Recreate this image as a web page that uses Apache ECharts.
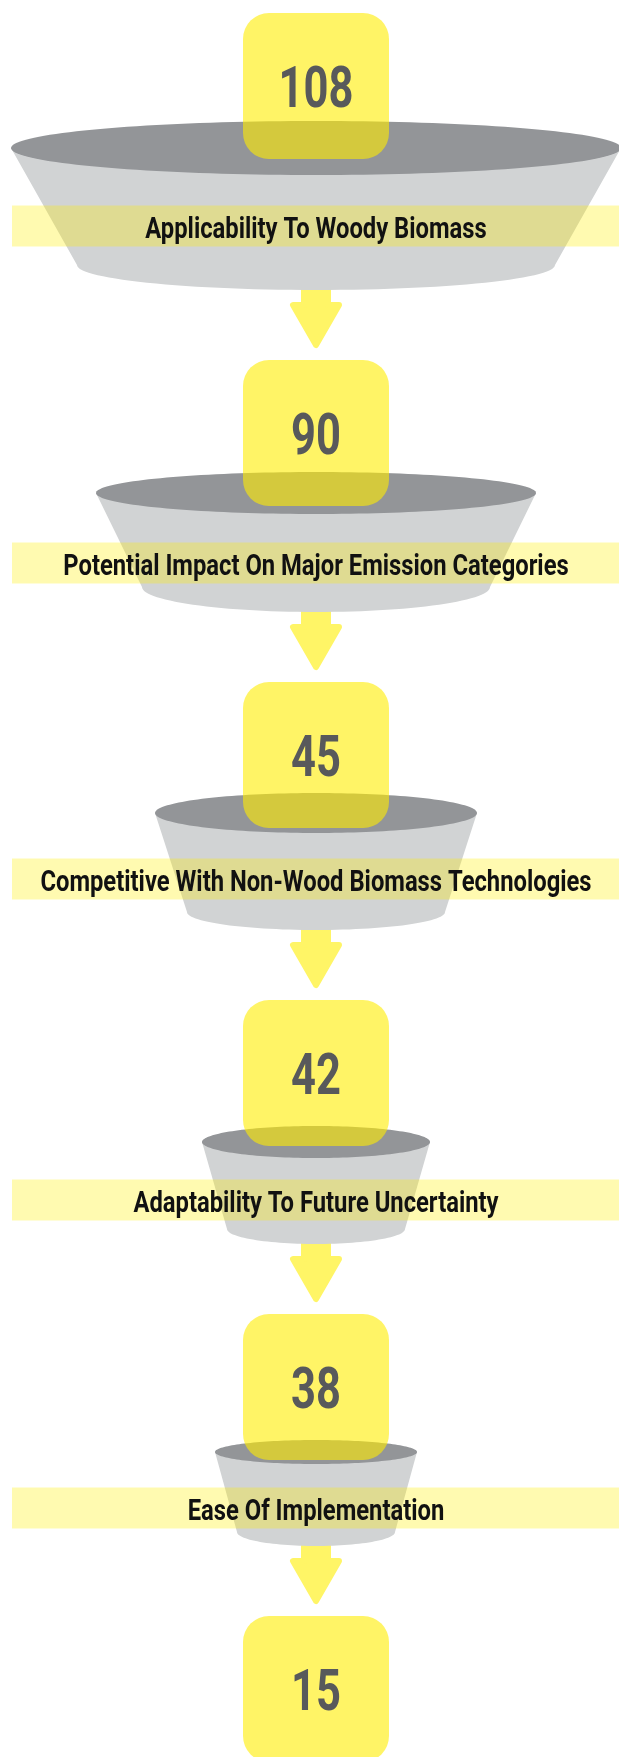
<!DOCTYPE html>
<html>
<head>
<meta charset="utf-8">
<script src="https://cdn.jsdelivr.net/npm/echarts@6/dist/echarts.min.js"></script>
<style>
  html, body { margin: 0; padding: 0; background: #ffffff; }
  #chart { width: 619px; height: 1757px; }
</style>
</head>
<body>
<div id="chart"></div>
<script>
// Stage values, top to bottom
const stageValues = [108, 90, 45, 42, 38, 15];

// Criteria names shown on each funnel band (the final stage has no funnel)
const stageLabels = [
  'Applicability To Woody Biomass',
  'Potential Impact On Major Emission Categories',
  'Competitive With Non-Wood Biomass Technologies',
  'Adaptability To Future Uncertainty',
  'Ease Of Implementation',
  ''
];

// Decorative bowl geometry for each funnel stage (pixels)
const bowlShapes = [
  { lip: 135, rx: 305, ry: 27, depth: 117, baseRx: 239, baseRy: 25, band: 78 },
  { lip: 133, rx: 220, ry: 21, depth: 94,  baseRx: 174, baseRy: 25, band: 70 },
  { lip: 131, rx: 161, ry: 20, depth: 99,  baseRx: 129, baseRy: 18, band: 66 },
  { lip: 142, rx: 114, ry: 16, depth: 87,  baseRx: 89,  baseRy: 15, band: 58 },
  { lip: 138, rx: 101, ry: 12, depth: 80,  baseRx: 79,  baseRy: 14, band: 56 }
];

const CX = 316, FIRST_TOP = 13, BOX = 146, BOX_R = 26, GAP = 70;
const BAND_H = 41, BAND_L = 12, BAND_R = 622;
const COLORS = {
  lip: '#939598', body: '#d1d3d4', box: 'rgba(255,237,0,0.6)',
  band: 'rgba(255,238,0,0.31)', arrow: '#fff566', number: '#58595b', label: '#111111'
};

// Stack stages vertically: each one follows the previous bowl plus the arrow gap
const stageTops = [FIRST_TOP];
for (let i = 0; i < stageValues.length - 1; i++) {
  const b = bowlShapes[i];
  stageTops.push(stageTops[i] + b.lip + b.depth + b.baseRy + GAP);
}

function ellipsePoints(cx, cy, rx, ry, t0, t1, n) {
  const pts = [];
  for (let k = 0; k <= n; k++) {
    const t = t0 + (t1 - t0) * k / n;
    pts.push([cx + rx * Math.cos(t), cy + ry * Math.sin(t)]);
  }
  return pts;
}

function renderStage(params, api) {
  const i = params.dataIndex;
  const top = stageTops[i];
  const value = api.value(0);
  const children = [];
  const b = bowlShapes[i];

  if (b) {
    const cy = top + b.lip;
    const baseY = cy + b.depth;
    const bottom = baseY + b.baseRy;
    const headTop = bottom + 12;
    const tip = bottom + 58;

    // arrow towards the next stage (drawn first so the bowl hides its stem)
    children.push({
      type: 'polygon',
      shape: { points: [
        [CX - 12, baseY], [CX + 12, baseY], [CX + 12, headTop + 3], [CX + 23, headTop + 3],
        [CX, tip - 3], [CX - 23, headTop + 3], [CX - 12, headTop + 3]
      ] },
      style: { fill: COLORS.arrow, stroke: COLORS.arrow, lineWidth: 6, lineJoin: 'round' }
    });

    // bowl body: straight sides with a curved base
    const body = [[CX - b.rx, cy], [CX + b.rx, cy], [CX + b.baseRx, baseY]]
      .concat(ellipsePoints(CX, baseY, b.baseRx, b.baseRy, 0, Math.PI, 60))
      .concat([[CX - b.baseRx, baseY]]);
    children.push({ type: 'polygon', shape: { points: body }, style: { fill: COLORS.body } });

    // bowl rim
    children.push({
      type: 'polygon',
      shape: { points: ellipsePoints(CX, cy, b.rx, b.ry, 0, Math.PI * 2, 160) },
      style: { fill: COLORS.lip }
    });
  }

  // value tile
  children.push({
    type: 'rect',
    shape: { x: CX - BOX / 2, y: top, width: BOX, height: BOX, r: BOX_R },
    style: { fill: COLORS.box }
  });
  children.push({
    type: 'text',
    x: CX, y: top + BOX / 2 + 6, scaleX: 0.75,
    style: {
      text: String(value), fill: COLORS.number,
      fontFamily: 'Roboto', fontWeight: 'bold', fontSize: 58,
      align: 'center', verticalAlign: 'middle'
    }
  });

  if (b) {
    const bandY = top + b.lip + b.band;
    children.push({
      type: 'rect',
      shape: { x: BAND_L, y: bandY - BAND_H / 2, width: BAND_R - BAND_L, height: BAND_H },
      style: { fill: COLORS.band }
    });
    children.push({
      type: 'text',
      x: CX, y: bandY + 5, scaleX: 0.82,
      style: {
        text: stageLabels[i], fill: COLORS.label,
        fontFamily: 'Roboto', fontWeight: 'bold', fontSize: 29,
        align: 'center', verticalAlign: 'middle'
      }
    });
  }

  return { type: 'group', children: children };
}

const chart = echarts.init(document.getElementById('chart'), null, { renderer: 'canvas' });
chart.setOption({
  backgroundColor: '#ffffff',
  animation: false,
  series: [{
    type: 'custom',
    coordinateSystem: 'none',
    renderItem: renderStage,
    data: stageValues.map((v, i) => ({ value: [v], name: stageLabels[i] })),
    silent: true
  }]
});
</script>
</body>
</html>
